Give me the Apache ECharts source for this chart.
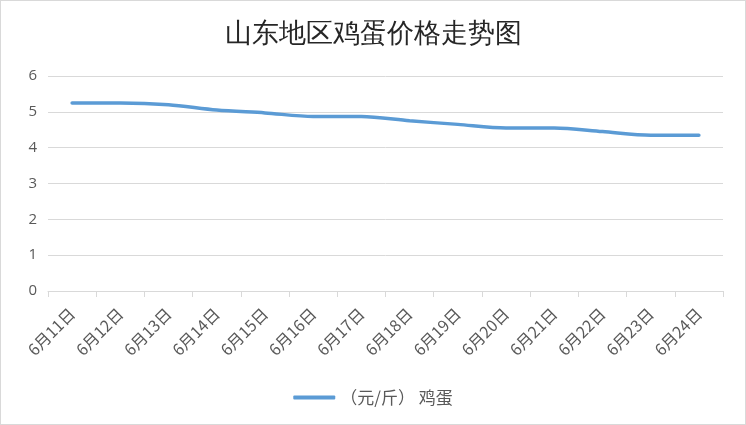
<!DOCTYPE html>
<html>
<head>
<meta charset="utf-8">
<script src="https://cdn.jsdelivr.net/npm/echarts@6.0.0/dist/echarts.min.js"></script>
<style>
  html, body { margin: 0; padding: 0; background: #fff; }
  #chart { width: 744px; height: 423px; border: 1px solid #d9d9d9; }
</style>
</head>
<body>
<div id="chart"></div>
<script>
// 山东地区鸡蛋价格 (元/斤)
const days = ['6月11日', '6月12日', '6月13日', '6月14日', '6月15日', '6月16日', '6月17日',
              '6月18日', '6月19日', '6月20日', '6月21日', '6月22日', '6月23日', '6月24日'];
const eggPrice = [5.25, 5.25, 5.2, 5.05, 4.97, 4.87, 4.87, 4.75, 4.65, 4.55, 4.55, 4.45, 4.35, 4.35];
const seriesName = '（元/斤） 鸡蛋';

const chart = echarts.init(document.getElementById('chart'), null, { renderer: 'canvas' });

chart.setOption({
    animation: false,
    title: {
        text: '山东地区鸡蛋价格走势图',
        left: 'center',
        top: 15,
        textStyle: { color: '#262626', fontSize: 27, fontWeight: 'normal', fontFamily: 'serif' },
    },
    legend: {
        data: [seriesName],
        top: 383,
        left: 'center',
        itemWidth: 42,
        itemHeight: 4,
        itemGap: 10,
        icon: 'roundRect',
        textStyle: { color: '#595959', fontSize: 17, fontFamily: '"Noto Sans CJK SC", sans-serif' },
    },
    grid: { left: 47, right: 22, top: 75, bottom: 133, containLabel: false },
    xAxis: {
        type: 'category',
        data: days,
        boundaryGap: true,
        axisLine: { lineStyle: { color: '#d9d9d9', width: 1 } },
        axisTick: { show: true, length: 6, lineStyle: { color: '#d9d9d9' } },
        axisLabel: {
            rotate: 45, interval: 0, margin: 20,
            color: '#595959', fontSize: 16, fontFamily: '"Noto Sans CJK SC", sans-serif',
        },
    },
    yAxis: {
        type: 'value',
        min: 0, max: 6, interval: 1,
        axisLine: { show: false },
        axisTick: { show: false },
        splitLine: { lineStyle: { color: '#d9d9d9' } },
        axisLabel: { color: '#595959', fontSize: 15, margin: 11, fontFamily: '"Open Sans", sans-serif' },
    },
    series: [{
        name: seriesName,
        type: 'line',
        data: eggPrice,
        smooth: 0.3,
        showSymbol: false,
        lineStyle: { color: '#5b9bd5', width: 3.5, cap: 'round' },
        itemStyle: { color: '#5b9bd5' },
    }],
});
</script>
</body>
</html>
